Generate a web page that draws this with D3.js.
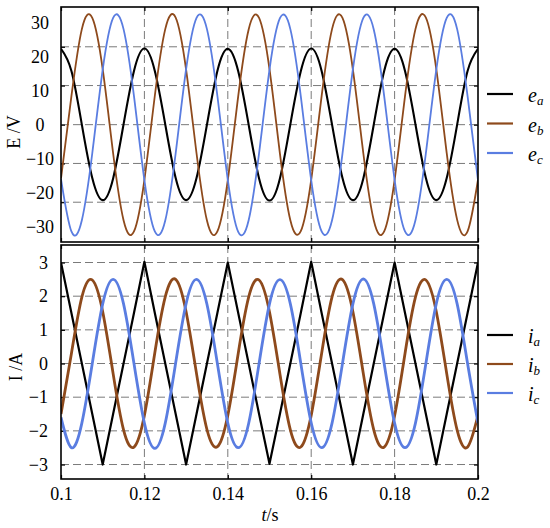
<!DOCTYPE html>
<html>
<head>
<meta charset="utf-8">
<script src="https://cdn.jsdelivr.net/npm/d3@7"></script>
<style>
    body { margin: 0; background: #fff; }
    svg text { font-family: "Liberation Serif", "Tinos", "Times New Roman", "DejaVu Serif", serif !important; }
</style>
</head>
<body>
<div id="chart"></div>
<script>
// sample times (s)
var time = [0.1, 0.1025, 0.105, 0.1075, 0.11, 0.1125, 0.115, 0.1175,
    0.12, 0.1225, 0.125, 0.1275, 0.13, 0.1325, 0.135, 0.1375,
    0.14, 0.1425, 0.145, 0.1475, 0.15, 0.1525, 0.155, 0.1575,
    0.16, 0.1625, 0.165, 0.1675, 0.17, 0.1725, 0.175, 0.1775,
    0.18, 0.1825, 0.185, 0.1875, 0.19, 0.1925, 0.195, 0.1975, 0.2];

// back-EMF (V)
var ea = [22.3, 15.8, 0.0, -15.7, -22.2, -15.8, 0.1, 15.8,
    22.4, 15.8, 0.1, -15.7, -22.2, -15.7, 0.0, 15.8,
    22.3, 15.7, 0.0, -15.8, -22.3, -15.8, 0.1, 15.7,
    22.4, 15.8, 0.0, -15.7, -22.2, -15.8, 0.0, 15.8,
    22.3, 15.8, 0.1, -15.7, -22.2, -15.7, 0.0, 15.8, 22.3];
var eb = [-15.8, 8.4, 28.1, 31.4, 16.3, -8.4, -28.1, -31.4,
    -16.2, 8.5, 28.1, 31.5, 16.2, -8.4, -28.2, -31.4,
    -16.3, 8.4, 28.0, 31.4, 16.3, -8.5, -28.1, -31.3,
    -16.2, 8.4, 28.1, 31.4, 16.2, -8.4, -28.1, -31.4,
    -16.3, 8.4, 28.1, 31.5, 16.3, -8.4, -28.0, -31.4, -16.2];
var ec = [-16.0, -31.4, -28.1, -8.4, 16.2, 31.4, 28.1, 8.4,
    -16.3, -31.4, -28.2, -8.4, 16.3, 31.4, 28.1, 8.5,
    -16.2, -31.5, -28.1, -8.4, 16.2, 31.3, 28.1, 8.4,
    -16.3, -31.4, -28.1, -8.5, 16.3, 31.4, 28.0, 8.4,
    -16.2, -31.4, -28.1, -8.4, 16.2, 31.4, 28.1, 8.4, -16.3];

// phase currents (A)
var ia = [3.0, 1.5, 0.0, -1.5, -3.0, -1.5, 0.0, 1.5,
    3.02, 1.5, 0.0, -1.5, -3.0, -1.5, 0.0, 1.5,
    3.0, 1.5, 0.0, -1.5, -2.98, -1.5, 0.0, 1.5,
    3.02, 1.5, 0.0, -1.5, -3.0, -1.5, 0.0, 1.5,
    3.0, 1.5, 0.0, -1.5, -3.0, -1.5, 0.0, 1.5, 3.0];
var ib = [-1.5, 0.3, 1.97, 2.48, 1.54, -0.3, -1.97, -2.48,
    -1.54, 0.32, 1.98, 2.5, 1.54, -0.3, -1.96, -2.47,
    -1.54, 0.3, 1.97, 2.48, 1.53, -0.31, -1.97, -2.48,
    -1.54, 0.3, 1.98, 2.49, 1.54, -0.3, -1.97, -2.48,
    -1.55, 0.3, 1.97, 2.48, 1.54, -0.3, -1.98, -2.48, -1.54];
var ic = [-1.6, -2.5, -1.77, 0.0, 1.77, 2.5, 1.77, 0.0,
    -1.77, -2.52, -1.77, 0.02, 1.78, 2.5, 1.76, 0.0,
    -1.77, -2.5, -1.78, 0.0, 1.77, 2.49, 1.77, 0.01,
    -1.76, -2.5, -1.77, 0.0, 1.77, 2.51, 1.77, 0.0,
    -1.77, -2.5, -1.77, 0.0, 1.78, 2.5, 1.77, 0.0, -1.77];

var xTicks = [0.1, 0.12, 0.14, 0.16, 0.18, 0.2];
var xGrid = [0.12, 0.14, 0.16, 0.18];
var eLabels = [30, 20, 10, 0, -10, -20, -30];
var eGrid = [22.9, 11.5, 0, -11.4, -22.8];
var iTicks = [3, 2, 1, 0, -1, -2, -3];

var colors = ["#000000", "#8e4a1c", "#5a7de1"];
var eNames = ["a", "b", "c"];
var serif = "'Liberation Serif', Tinos, 'Times New Roman', 'DejaVu Serif', serif";

var width = 550, height = 528;
var left = 61, right = 478;

var svg = d3.select("#chart").append("svg")
    .attr("width", width)
    .attr("height", height)
    .style("font-family", serif);

var x = d3.scaleLinear().domain([0.1, 0.2]).range([left, right]);
var yE = d3.scaleLinear().domain([-34.5, 34.6]).range([242, 7]);
var yI = d3.scaleLinear().domain([-3.43, 3.52]).range([479, 245]);

function panel(id, y, top, bottom, gridVals) {
    var g = svg.append("g");
    g.append("clipPath").attr("id", id)
        .append("rect")
        .attr("x", left).attr("y", top)
        .attr("width", right - left).attr("height", bottom - top);

    // dashed grid
    g.selectAll(".hg").data(gridVals).enter().append("line")
        .attr("x1", left).attr("x2", right)
        .attr("y1", function (d) { return y(d); })
        .attr("y2", function (d) { return y(d); })
        .attr("stroke", "#7a7a7a").attr("stroke-width", 1)
        .attr("stroke-dasharray", "8,4");
    g.selectAll(".vg").data(xGrid).enter().append("line")
        .attr("y1", top).attr("y2", bottom)
        .attr("x1", function (d) { return x(d); })
        .attr("x2", function (d) { return x(d); })
        .attr("stroke", "#7a7a7a").attr("stroke-width", 1)
        .attr("stroke-dasharray", "8,4");

    // inward tick marks
    var tb = g.append("g").attr("transform", "translate(0," + bottom + ")")
        .call(d3.axisTop(x).tickValues(xTicks).tickSize(4).tickFormat(""));
    var tt = g.append("g").attr("transform", "translate(0," + top + ")")
        .call(d3.axisBottom(x).tickValues(xTicks).tickSize(4).tickFormat(""));
    var tl = g.append("g").attr("transform", "translate(" + left + ",0)")
        .call(d3.axisRight(y).tickValues(gridVals).tickSize(4).tickFormat(""));
    var tr = g.append("g").attr("transform", "translate(" + right + ",0)")
        .call(d3.axisLeft(y).tickValues(gridVals).tickSize(4).tickFormat(""));
    [tb, tt, tl, tr].forEach(function (a) {
        a.select(".domain").remove();
        a.selectAll("line").attr("stroke", "#000").attr("stroke-width", 1.2);
    });
    return g;
}

function drawLines(g, id, y, series, curves, widths) {
    series.forEach(function (vals, k) {
        var line = d3.line()
            .x(function (d, i) { return x(time[i]); })
            .y(function (d) { return y(d); })
            .curve(curves[k]);
        g.append("path")
            .datum(vals)
            .attr("clip-path", "url(#" + id + ")")
            .attr("d", line)
            .attr("fill", "none")
            .attr("stroke", colors[k])
            .attr("stroke-width", widths[k])
            .attr("stroke-linejoin", "round");
    });
}

function frame(g, top, bottom) {
    g.append("rect")
        .attr("x", left).attr("y", top)
        .attr("width", right - left).attr("height", bottom - top)
        .attr("fill", "none").attr("stroke", "#000").attr("stroke-width", 1.6);
}

function legend(letter, ys) {
    ys.forEach(function (ly, k) {
        svg.append("line")
            .attr("x1", 487).attr("x2", 513)
            .attr("y1", ly).attr("y2", ly)
            .attr("stroke", colors[k]).attr("stroke-width", 2.2);
        var t = svg.append("text")
            .attr("x", 528).attr("y", ly + 8)
            .attr("font-family", serif)
            .attr("font-size", 20).attr("font-style", "italic");
        t.append("tspan").text(letter);
        t.append("tspan").attr("dy", 3).attr("font-size", 13).text(eNames[k]);
    });
}

// ---- top panel: back-EMF
var gE = panel("clipE", yE, 7, 242, eGrid);
drawLines(gE, "clipE", yE, [ea, eb, ec],
    [d3.curveNatural, d3.curveNatural, d3.curveNatural], [2.1, 1.8, 1.8]);
frame(gE, 7, 242);

svg.append("g").selectAll("text").data(eLabels).enter().append("text")
    .attr("x", 40)
    .attr("y", function (d) { return yE(d) + 6; })
    .attr("text-anchor", "middle")
    .attr("font-family", serif)
    .attr("font-size", 18)
    .text(function (d) { return d < 0 ? "\u2212" + Math.abs(d) : d; });

svg.append("text")
    .attr("transform", "translate(20,132) rotate(-90)")
    .attr("text-anchor", "middle")
    .attr("font-family", serif)
    .attr("font-size", 18)
    .text("E /V");

legend("e", [94, 123.5, 153]);

// ---- bottom panel: currents
var gI = panel("clipI", yI, 245, 479, iTicks);
drawLines(gI, "clipI", yI, [ia, ib, ic],
    [d3.curveLinear, d3.curveNatural, d3.curveNatural], [2.2, 2.8, 2.8]);
frame(gI, 245, 479);

svg.append("g").selectAll("text").data(iTicks).enter().append("text")
    .attr("x", 48)
    .attr("y", function (d) { return yI(d) + 6; })
    .attr("text-anchor", "end")
    .attr("font-family", serif)
    .attr("font-size", 18)
    .text(function (d) { return d < 0 ? "\u2212" + Math.abs(d) : d; });

svg.append("text")
    .attr("transform", "translate(22,367) rotate(-90)")
    .attr("text-anchor", "middle")
    .attr("font-family", serif)
    .attr("font-size", 18)
    .text("I /A");

legend("i", [335, 364, 393]);

// x axis labels
var xAxis = svg.append("g")
    .attr("transform", "translate(0,481)")
    .call(d3.axisBottom(x).tickValues(xTicks).tickSize(0).tickPadding(6)
        .tickFormat(function (d) { return String(+d.toFixed(2)); }));
xAxis.select(".domain").remove();
xAxis.attr("font-family", serif).attr("font-size", 18);
xAxis.selectAll("text")
    .attr("font-family", serif)
    .attr("font-size", 18)
    .attr("fill", "#000");

var xt = svg.append("text")
    .attr("x", 270).attr("y", 521)
    .attr("text-anchor", "middle")
    .attr("font-family", serif)
    .attr("font-size", 18);
xt.append("tspan").attr("font-style", "italic").text("t");
xt.append("tspan").text("/s");
</script>
</body>
</html>
